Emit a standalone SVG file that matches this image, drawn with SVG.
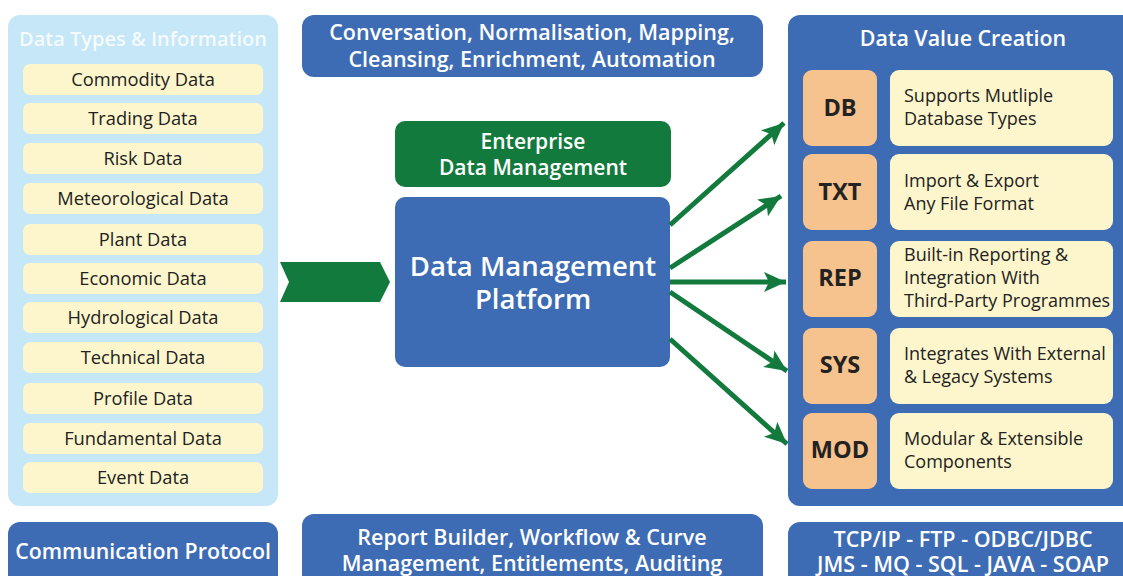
<svg xmlns="http://www.w3.org/2000/svg" width="1123" height="576" viewBox="0 0 1123 576">
  <style>
    .blue { fill: #3e6cb4; }
    .green { fill: #137a3d; }
    .panel { fill: #c5e7f7; }
    .item { fill: #fdf6cc; }
    .tag { fill: #f6c28e; }
    .wt { fill: #ffffff; font-family: "Open Sans", "Noto Sans", sans-serif; font-weight: 600; text-anchor: middle; }
    .dt { fill: #222222; font-family: "Open Sans", "Noto Sans", sans-serif; font-size: 18.3px; text-anchor: middle; }
    .lt { fill: #222222; font-family: "Open Sans", "Noto Sans", sans-serif; font-size: 18px; }
    .bt { fill: #222222; font-family: "Open Sans", "Noto Sans", sans-serif; font-size: 23.5px; font-weight: 700; text-anchor: middle; }
    .conn { stroke: #137a3d; stroke-width: 5; fill: none; }
  </style>
  <defs>
    <marker id="head" markerUnits="userSpaceOnUse" markerWidth="24" markerHeight="20" refX="22" refY="10" orient="auto">
      <path d="M0,0 L22,10 L0,20 L5,10 Z" fill="#137a3d"/>
    </marker>
  </defs>
  <rect width="1123" height="576" fill="#ffffff"/>

  <!-- Data types panel -->
  <g id="data-types">
    <rect class="panel" x="8" y="15" width="270" height="491" rx="12"/>
    <text class="wt" x="143" y="46" font-size="20" fill-opacity="0.85">Data Types &amp; Information</text>
    <g id="commodity"><rect class="item" x="23" y="64" width="240" height="31" rx="7"/><text class="dt" x="143" y="86">Commodity Data</text></g>
    <g id="trading"><rect class="item" x="23" y="103" width="240" height="31" rx="7"/><text class="dt" x="143" y="125">Trading Data</text></g>
    <g id="risk"><rect class="item" x="23" y="143" width="240" height="31" rx="7"/><text class="dt" x="143" y="165">Risk Data</text></g>
    <g id="meteorological"><rect class="item" x="23" y="183" width="240" height="31" rx="7"/><text class="dt" x="143" y="205">Meteorological Data</text></g>
    <g id="plant"><rect class="item" x="23" y="224" width="240" height="31" rx="7"/><text class="dt" x="143" y="246">Plant Data</text></g>
    <g id="economic"><rect class="item" x="23" y="263" width="240" height="31" rx="7"/><text class="dt" x="143" y="285">Economic Data</text></g>
    <g id="hydrological"><rect class="item" x="23" y="302" width="240" height="31" rx="7"/><text class="dt" x="143" y="324">Hydrological Data</text></g>
    <g id="technical"><rect class="item" x="23" y="342" width="240" height="31" rx="7"/><text class="dt" x="143" y="364">Technical Data</text></g>
    <g id="profile"><rect class="item" x="23" y="383" width="240" height="31" rx="7"/><text class="dt" x="143" y="405">Profile Data</text></g>
    <g id="fundamental"><rect class="item" x="23" y="423" width="240" height="31" rx="7"/><text class="dt" x="143" y="445">Fundamental Data</text></g>
    <g id="event"><rect class="item" x="23" y="462" width="240" height="31" rx="7"/><text class="dt" x="143" y="484">Event Data</text></g>
  </g>

  <!-- Processing banner -->
  <g id="processing">
    <rect class="blue" x="302" y="15" width="461" height="62" rx="12"/>
    <text class="wt" x="532" y="40" font-size="21.5">Conversation, Normalisation, Mapping,</text>
    <text class="wt" x="532" y="67" font-size="21.5">Cleansing, Enrichment, Automation</text>
  </g>

  <!-- Enterprise data management -->
  <g id="edm">
    <rect class="green" x="395" y="121" width="276" height="66" rx="10"/>
    <text class="wt" x="533" y="149" font-size="21">Enterprise</text>
    <text class="wt" x="533" y="175" font-size="21">Data Management</text>
  </g>

  <!-- Platform -->
  <g id="platform">
    <rect class="blue" x="395" y="197" width="275" height="170" rx="10"/>
    <text class="wt" x="533" y="276" font-size="27.5">Data Management</text>
    <text class="wt" x="533" y="309" font-size="27.5">Platform</text>
  </g>

  <!-- Input chevron -->
  <g id="input">
    <polygon class="green" points="280,262 380,262 390,282 380,302 280,302 289,282"/>
  </g>

  <!-- Value creation panel -->
  <g id="value-creation">
    <rect class="blue" x="788" y="15" width="350" height="491" rx="12"/>
    <text class="wt" x="963" y="46" font-size="21.4">Data Value Creation</text>
  </g>
  <g id="db">
    <rect class="tag" x="803" y="70" width="74" height="76" rx="9"/>
    <text class="bt" x="840" y="116">DB</text>
    <rect class="item" x="890" y="70" width="223" height="76" rx="9"/>
    <text class="lt" x="904" y="102">Supports Mutliple</text>
    <text class="lt" x="904" y="125">Database Types</text>
  </g>
  <g id="txt">
    <rect class="tag" x="803" y="154" width="74" height="76" rx="9"/>
    <text class="bt" x="840" y="200">TXT</text>
    <rect class="item" x="890" y="154" width="223" height="76" rx="9"/>
    <text class="lt" x="904" y="187">Import &amp; Export</text>
    <text class="lt" x="904" y="210">Any File Format</text>
  </g>
  <g id="rep">
    <rect class="tag" x="803" y="241" width="74" height="76" rx="9"/>
    <text class="bt" x="840" y="286">REP</text>
    <rect class="item" x="890" y="241" width="223" height="76" rx="9"/>
    <text class="lt" x="904" y="261">Built-in Reporting &amp;</text>
    <text class="lt" x="904" y="284">Integration With</text>
    <text class="lt" x="904" y="307">Third-Party Programmes</text>
  </g>
  <g id="sys">
    <rect class="tag" x="803" y="328" width="74" height="76" rx="9"/>
    <text class="bt" x="840" y="373">SYS</text>
    <rect class="item" x="890" y="328" width="223" height="76" rx="9"/>
    <text class="lt" x="904" y="360">Integrates With External</text>
    <text class="lt" x="904" y="383">&amp; Legacy Systems</text>
  </g>
  <g id="mod">
    <rect class="tag" x="803" y="413" width="74" height="76" rx="9"/>
    <text class="bt" x="840" y="458">MOD</text>
    <rect class="item" x="890" y="413" width="223" height="76" rx="9"/>
    <text class="lt" x="904" y="445">Modular &amp; Extensible</text>
    <text class="lt" x="904" y="468">Components</text>
  </g>

  <!-- Bottom row -->
  <g id="protocol">
    <rect class="blue" x="8" y="522" width="270" height="70" rx="12"/>
    <text class="wt" x="143" y="559" font-size="21.3">Communication Protocol</text>
  </g>
  <g id="tools">
    <rect class="blue" x="302" y="514" width="461" height="80" rx="12"/>
    <text class="wt" x="532" y="545" font-size="21.5">Report Builder, Workflow &amp; Curve</text>
    <text class="wt" x="532" y="571" font-size="21.5">Management, Entitlements, Auditing</text>
  </g>
  <g id="protocols">
    <rect class="blue" x="788" y="522" width="350" height="70" rx="12"/>
    <text class="wt" x="963" y="547" font-size="21.5">TCP/IP - FTP - ODBC/JDBC</text>
    <text class="wt" x="963" y="572" font-size="21.5">JMS - MQ - SQL - JAVA - SOAP</text>
  </g>

  <!-- Connectors -->
  <g id="connectors">
    <line class="conn" x1="670" y1="225" x2="784" y2="123" marker-end="url(#head)"/>
    <line class="conn" x1="670" y1="268" x2="781" y2="196" marker-end="url(#head)"/>
    <line class="conn" x1="670" y1="282" x2="786" y2="282" marker-end="url(#head)"/>
    <line class="conn" x1="670" y1="292" x2="787" y2="371" marker-end="url(#head)"/>
    <line class="conn" x1="670" y1="339" x2="787" y2="444" marker-end="url(#head)"/>
  </g>
</svg>
